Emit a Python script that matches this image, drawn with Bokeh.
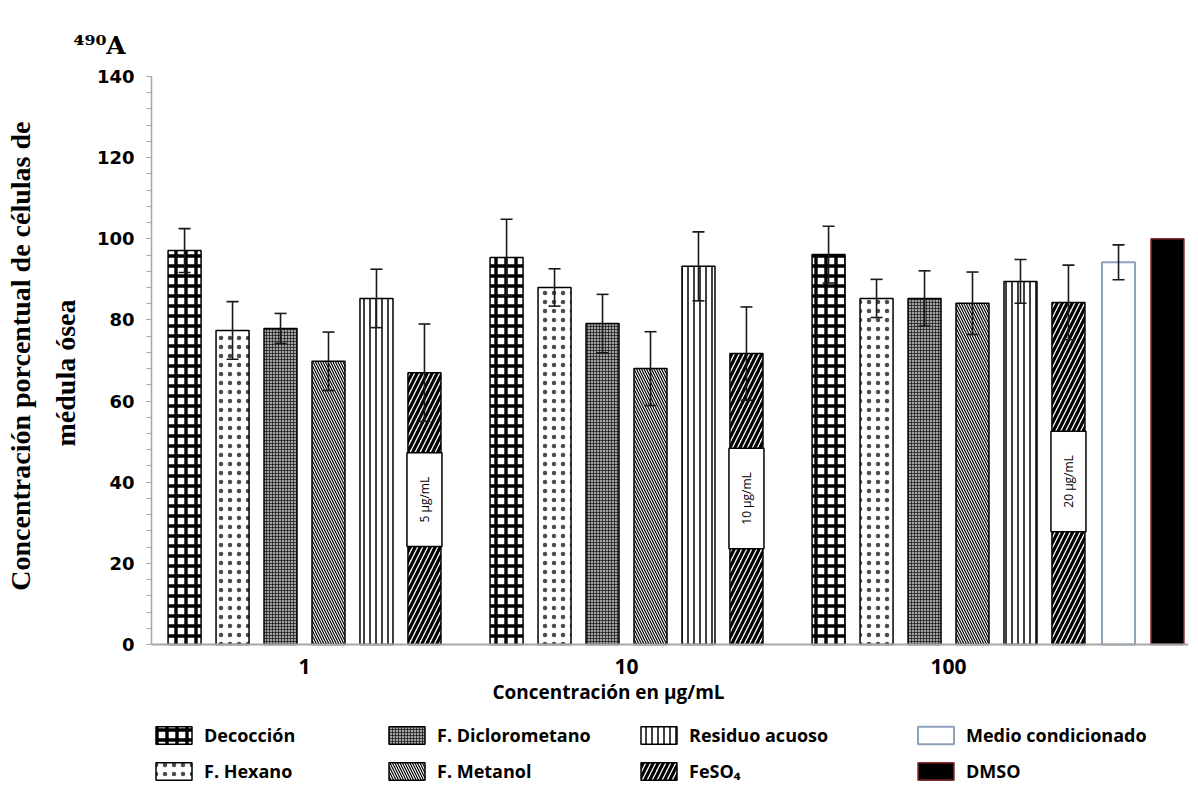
import math
from bokeh.plotting import figure
from bokeh.models import (ColumnDataSource, Whisker, TeeHead, Label, Legend, LegendItem,
                          FixedTicker, Range1d, Title, Span)
from bokeh.embed import file_html
from bokeh.resources import INLINE

# ---------------- data ----------------
groups = ["1", "10", "100"]
series = ["Decocción", "F. Hexano", "F. Diclorometano", "F. Metanol", "Residuo acuoso", "FeSO₄"]
decoccion = [97.1, 95.4, 96.1]
hexano = [77.4, 88.0, 85.3]
dicloro = [77.9, 79.1, 85.3]
metanol = [69.8, 68.0, 84.1]
residuo = [85.3, 93.2, 89.5]
feso4 = [67.0, 71.7, 84.3]
err_decoccion = [5.4, 9.4, 7.0]
err_hexano = [7.1, 4.6, 4.7]
err_dicloro = [3.7, 7.2, 6.8]
err_metanol = [7.2, 9.1, 7.7]
err_residuo = [7.2, 8.5, 5.4]
err_feso4 = [12.0, 11.5, 9.2]
controls = ["Medio condicionado", "DMSO"]
control_values = [94.2, 100.0]
control_err = [4.3, 0.0]
feso4_labels = ["5 µg/mL", "10 µg/mL", "20 µg/mL"]
feso4_label_y = [35.7, 36.0, 40.2]
y_ticks = [0, 20, 40, 60, 80, 100, 120, 140]

values = [decoccion, hexano, dicloro, metanol, residuo, feso4]
errors = [err_decoccion, err_hexano, err_dicloro, err_metanol, err_residuo, err_feso4]

styles = [
    dict(fill_color="white", hatch_pattern="+", hatch_scale=10, hatch_weight=3.4),
    dict(fill_color="white", hatch_pattern=".", hatch_scale=9, hatch_weight=0.3, hatch_alpha=0.7),
    dict(fill_color="#a2a2a2", hatch_pattern="+", hatch_scale=3, hatch_weight=0.6),
    dict(fill_color="white", hatch_pattern="\\", hatch_scale=5, hatch_weight=1.2),
    dict(fill_color="white", hatch_pattern="|", hatch_scale=6, hatch_weight=1.5),
    dict(fill_color="white", hatch_pattern="/", hatch_scale=10, hatch_weight=3.2),
]

# ---------------- figure ----------------
W, H = 1190, 785
PX = 568 / 140.0                      # pixels per unit on y
y_start = 140 - (H - 76) / PX         # frame extends to the bottom of the canvas
p = figure(width=W, height=H, output_backend="svg", toolbar_location=None,
           x_range=Range1d(0.5248, 3.7453), y_range=Range1d(y_start, 140),
           min_border_left=151, min_border_right=2, min_border_top=76, min_border_bottom=0)
p.xgrid.visible = False
p.ygrid.visible = False
p.outline_line_color = None
p.background_fill_color = "white"
p.xaxis.visible = False

step = 0.149
bw = 0.1025
renderers = []
for i, (vals, errs) in enumerate(zip(values, errors)):
    xs = [g + 1 + (i - 2.5) * step for g in range(len(groups))]
    src = ColumnDataSource(dict(x=xs, top=vals, upper=[v + e for v, e in zip(vals, errs)],
                                lower=[v - e for v, e in zip(vals, errs)]))
    r = p.vbar(x="x", top="top", width=bw, bottom=0, source=src,
               line_color="black", line_width=1.5, hatch_color="black", **styles[i])
    renderers.append((r, src))

# controls
cx = [3.528, 3.680]
r_medio = p.vbar(x=[cx[0]], top=[control_values[0]], width=bw, fill_color="white",
                 line_color="#8ea1bd", line_width=2)
r_dmso = p.vbar(x=[cx[1]], top=[control_values[1]], width=bw, fill_color="black",
                line_color="#8b2a2a", line_width=1.5)

# x axis line
p.add_layout(Span(location=0, dimension="width", line_color="#a6a6a6", line_width=2))

# FeSO4 concentration boxes
fe_src = renderers[5][1]
for xv, yv, t in zip(fe_src.data["x"], feso4_label_y, feso4_labels):
    p.add_layout(Label(x=xv, y=yv, text=t, angle=math.pi / 2, text_align="center",
                       text_baseline="middle", text_font="Open Sans", text_font_size="12px",
                       text_color="black", background_fill_color="white",
                       border_line_color="black", border_line_width=1.5, padding=(24, 9)))

# error bars
def add_whisker(src):
    w = Whisker(base="x", upper="upper", lower="lower", source=src, line_color="#1a1a1a",
                line_width=1.6, level="overlay",
                upper_head=TeeHead(size=12, line_color="#1a1a1a", line_width=1.6),
                lower_head=TeeHead(size=12, line_color="#1a1a1a", line_width=1.6))
    p.add_layout(w)

for r, src in renderers:
    add_whisker(src)
msrc = ColumnDataSource(dict(x=[cx[0]], upper=[control_values[0] + control_err[0]],
                             lower=[control_values[0] - control_err[0]]))
add_whisker(msrc)

# y axis
p.yaxis.bounds = (0, 140)
p.yaxis.ticker = FixedTicker(ticks=y_ticks, minor_ticks=list(range(0, 141, 4)))
p.yaxis.axis_line_color = "#a6a6a6"
p.yaxis.axis_line_width = 1.5
p.yaxis.major_tick_line_color = "#a6a6a6"
p.yaxis.minor_tick_line_color = "#a6a6a6"
p.yaxis.major_tick_in = 0
p.yaxis.major_tick_out = 5
p.yaxis.minor_tick_in = 0
p.yaxis.minor_tick_out = 5
p.yaxis.major_label_text_font = "DejaVu Sans"
p.yaxis.major_label_text_font_style = "bold"
p.yaxis.major_label_text_font_size = "18px"
p.yaxis.major_label_text_color = "black"
p.yaxis.major_label_standoff = 12

# x category labels and x title (inside the extended frame)
for k, g in enumerate(groups):
    p.add_layout(Label(x=k + 1, y=-22 / PX, text=g, text_align="center", text_baseline="middle",
                       text_font="Open Sans", text_font_style="bold", text_font_size="21px",
                       text_color="black"))
p.add_layout(Label(x=1.944, y=-47 / PX, text="Concentración en µg/mL", text_align="center",
                   text_baseline="middle", text_font="Open Sans", text_font_style="bold",
                   text_font_size="19px", text_color="black"))

# legends (four columns of two items)
all_r = [r for r, _ in renderers]
columns = [
    ([all_r[0], all_r[1]], [series[0], series[1]], 0),
    ([all_r[2], all_r[3]], [series[2], series[3]], 233),
    ([all_r[4], all_r[5]], [series[4], series[5]], 485),
    ([r_medio, r_dmso], controls, 762),
]
for rs, labels, lx in columns:
    leg = Legend(items=[LegendItem(label=l, renderers=[r]) for r, l in zip(rs, labels)],
                 location=(lx, 2), orientation="vertical", glyph_width=45, glyph_height=22,
                 spacing=12, label_standoff=8, padding=0, margin=0, border_line_color=None,
                 background_fill_alpha=0, label_text_font="Open Sans",
                 label_text_font_style="bold", label_text_font_size="18px",
                 label_text_color="black", label_height=22)
    p.add_layout(leg)

# y axis title (two lines)
p.add_layout(Title(text="médula ósea", align="right", offset=223, standoff=25,
                   text_font="Liberation Serif", text_font_style="bold",
                   text_font_size="28px", text_color="black"), "left")
p.add_layout(Title(text="Concentración porcentual de células de", align="right", offset=45,
                   standoff=0, text_font="Liberation Serif", text_font_style="bold",
                   text_font_size="28px", text_color="black"), "left")

# panel tag
p.add_layout(Title(text="⁴⁹⁰A", align="left", offset=-78, standoff=30, vertical_align="top",
                   text_font="DejaVu Serif", text_font_style="bold",
                   text_font_size="25px", text_color="black"), "above")

open("out.html", "w").write(file_html(p, INLINE))
